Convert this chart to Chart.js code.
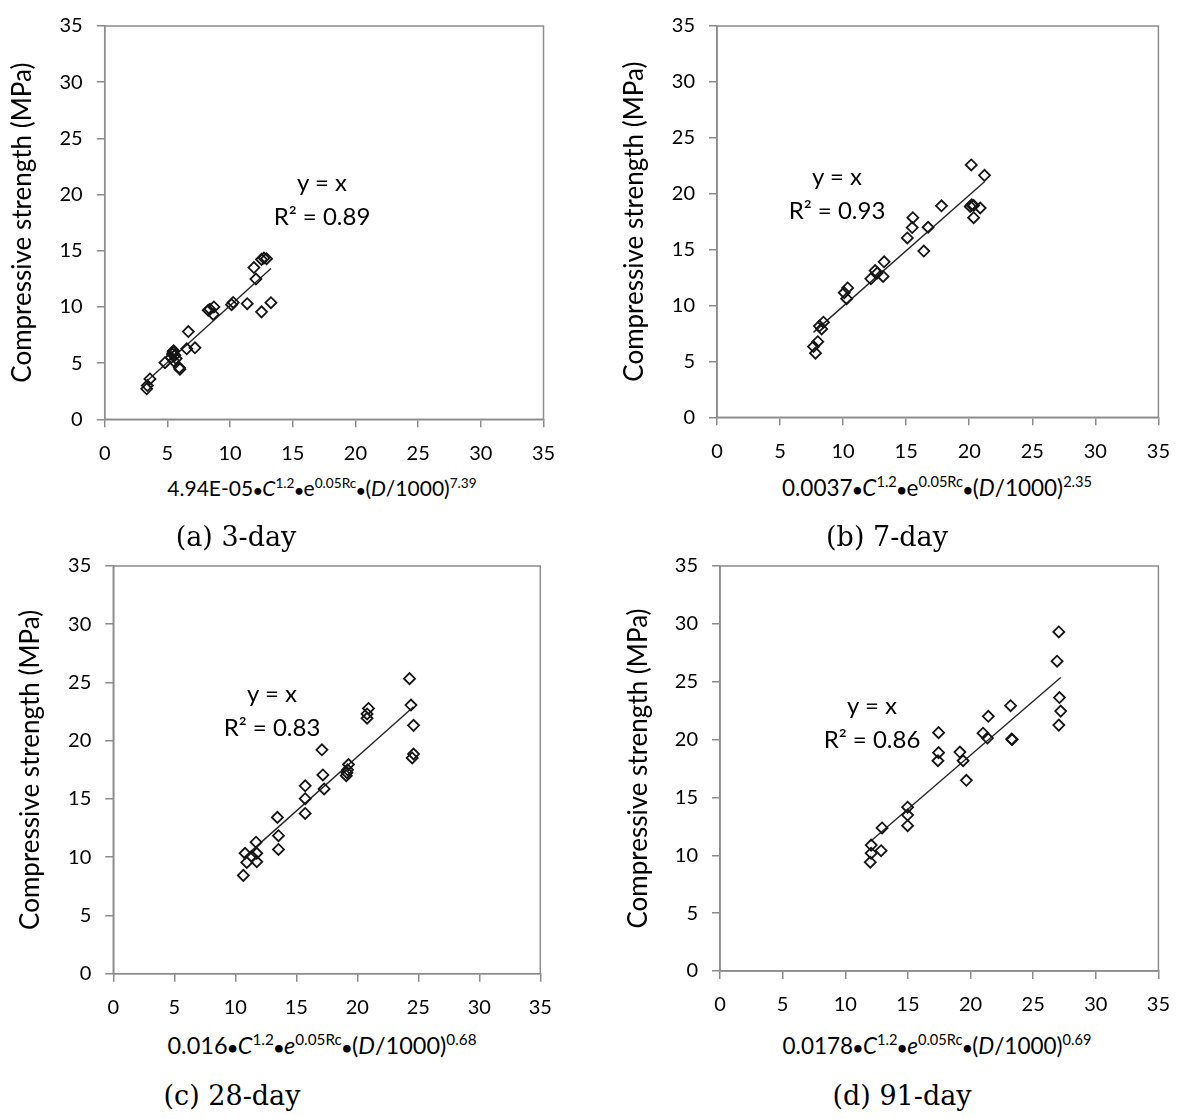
<!DOCTYPE html>
<html>
<head>
<meta charset="utf-8">
<script src="https://cdn.jsdelivr.net/npm/chart.js@4.4.0/dist/chart.umd.min.js"></script>
<style>
body { margin: 0; background: #fff; width: 1184px; height: 1119px; position: relative; overflow: hidden; }
.box { position: absolute; }
.xt { position: absolute; font-family: Lato, sans-serif; font-size: 21px; white-space: nowrap; transform: translate(-50%, -50%); color: #000; }
.xt sup { font-size: 0.65em; vertical-align: 0; position: relative; top: -0.6em; }
.xt b { font-size: 0.75em; }
.cap { position: absolute; font-family: 'DejaVu Serif', serif; font-size: 27px; white-space: nowrap; transform: translate(-50%, -50%); color: #000; }
.eq { position: absolute; font-family: Lato, sans-serif; font-size: 24px; line-height: 34px; text-align: center; white-space: nowrap; transform: translateX(-50%); color: #000; }
</style>
</head>
<body>
<div class="box" id="pa"><canvas id="ca"></canvas></div>
<div class="box" id="pb"><canvas id="cb"></canvas></div>
<div class="box" id="pc"><canvas id="cc"></canvas></div>
<div class="box" id="pd"><canvas id="cd"></canvas></div>

<div class="eq" style="left:322px;top:165px">y = x<br>R² = 0.89</div>
<div class="eq" style="left:837px;top:159px">y = x<br>R² = 0.93</div>
<div class="eq" style="left:272px;top:676px">y = x<br>R² = 0.83</div>
<div class="eq" style="left:872px;top:688px">y = x<br>R² = 0.86</div>

<div class="xt" style="left:322px;top:487px;font-size:21px">4.94E-05<b>•</b><i>C</i><sup>1.2</sup><b>•</b>e<sup>0.05Rc</sup><b>•</b>(<i>D</i>/1000)<sup>7.39</sup></div>
<div class="xt" style="left:937px;top:487px;font-size:22.5px">0.0037<b>•</b><i>C</i><sup>1.2</sup><b>•</b>e<sup>0.05Rc</sup><b>•</b>(<i>D</i>/1000)<sup>2.35</sup></div>
<div class="xt" style="left:322px;top:1045px;font-size:23.5px">0.016<b>•</b><i>C</i><sup>1.2</sup><b>•</b><i>e</i><sup>0.05Rc</sup><b>•</b>(<i>D</i>/1000)<sup>0.68</sup></div>
<div class="xt" style="left:937px;top:1045px;font-size:22.5px">0.0178<b>•</b><i>C</i><sup>1.2</sup><b>•</b><i>e</i><sup>0.05Rc</sup><b>•</b>(<i>D</i>/1000)<sup>0.69</sup></div>

<div class="cap" style="left:236px;top:536px">(a) 3-day</div>
<div class="cap" style="left:887px;top:536px">(b) 7-day</div>
<div class="cap" style="left:232px;top:1095px">(c) 28-day</div>
<div class="cap" style="left:902px;top:1095px">(d) 91-day</div>

<script>
// axis range shared by all four panels
var axisMin = 0;
var axisMax = 35;
var axisStep = 5;
var yTitle = 'Compressive strength (MPa)';

// (a) 3-day
var day3X = [3.35, 3.40, 3.61, 4.81, 5.30, 5.40, 5.50, 5.60, 5.45, 5.70, 5.50, 5.95, 6.00, 6.67, 6.54, 7.20, 8.26, 8.71, 8.66, 8.40, 10.12, 10.25, 11.37, 12.51, 13.26, 12.06, 11.90, 12.51, 12.91, 12.70];
var day3Y = [2.71, 3.00, 3.59, 5.04, 5.50, 5.80, 6.10, 5.70, 6.00, 5.40, 5.20, 4.60, 4.46, 7.81, 6.27, 6.36, 9.71, 10.00, 9.33, 9.80, 10.20, 10.40, 10.29, 9.56, 10.38, 12.48, 13.50, 14.23, 14.29, 14.35];

// (b) 7-day
var day7X = [7.81, 7.65, 7.99, 8.12, 8.44, 8.30, 10.28, 10.09, 10.36, 12.20, 12.54, 12.70, 13.17, 13.25, 15.09, 15.48, 15.53, 16.40, 16.74, 17.80, 20.16, 21.21, 20.08, 20.35, 20.87, 20.35, 20.20];
var day7Y = [5.74, 6.33, 6.76, 8.16, 8.51, 7.90, 10.61, 11.14, 11.57, 12.39, 13.12, 12.90, 12.60, 13.91, 16.04, 16.97, 17.85, 14.87, 17.00, 18.92, 22.57, 21.64, 18.86, 18.95, 18.72, 17.85, 19.00];

// (c) 28-day
var day28X = [10.66, 10.94, 10.80, 11.35, 11.76, 11.76, 11.70, 13.45, 13.54, 13.54, 15.73, 15.73, 15.73, 17.10, 17.18, 17.28, 19.28, 19.15, 19.10, 19.20, 20.92, 20.80, 20.80, 24.28, 24.40, 24.61, 24.61, 24.50];
var day28Y = [8.44, 9.55, 10.34, 10.06, 9.61, 10.34, 11.29, 13.42, 11.85, 10.67, 16.13, 15.02, 13.76, 19.22, 17.06, 15.86, 17.96, 17.26, 17.00, 17.50, 22.77, 22.30, 21.93, 25.33, 23.06, 21.32, 18.86, 18.52];

// (d) 91-day
var day91X = [12.07, 12.07, 12.00, 12.86, 12.94, 14.98, 14.98, 14.98, 17.45, 17.45, 17.40, 19.15, 19.41, 19.67, 21.00, 21.35, 21.42, 23.20, 23.28, 23.33, 27.05, 26.91, 27.10, 27.20, 27.05];
var day91Y = [10.88, 10.18, 9.40, 10.40, 12.36, 14.16, 13.48, 12.56, 20.60, 18.87, 18.17, 18.92, 18.17, 16.48, 20.55, 20.13, 22.01, 22.93, 20.04, 20.00, 29.30, 26.77, 23.63, 22.46, 21.25];

var axisGrey = '#8c8c8c';

var frameBox = {
    id: 'frameBox',
    beforeDatasetsDraw: function(chart) {
        var ctx = chart.ctx, a = chart.chartArea;
        ctx.save();
        ctx.strokeStyle = axisGrey;
        ctx.lineWidth = 1.5;
        ctx.strokeRect(a.left, a.top, a.right - a.left, a.bottom - a.top);
        ctx.restore();
    }
};

// f: page box of the canvas, plus the plot area edges in page pixels
function makePanel(divId, canvasId, f, xs, ys) {
    var div = document.getElementById(divId);
    div.style.left = f.left + 'px';
    div.style.top = f.top + 'px';
    div.style.width = f.width + 'px';
    div.style.height = f.height + 'px';

    var pts = xs.map(function(x, i) { return {x: x, y: ys[i]}; });
    // trend line through the origin, over the data range
    var sxy = 0, sxx = 0;
    xs.forEach(function(x, i) { sxy += x * ys[i]; sxx += x * x; });
    var slope = sxy / sxx;
    var lo = Math.min.apply(null, xs), hi = Math.max.apply(null, xs);

    var tickFont = {family: 'Lato', size: 20};

    return new Chart(document.getElementById(canvasId), {
        type: 'scatter',
        data: {
            datasets: [{
                data: pts,
                pointStyle: 'rectRot',
                pointRadius: 5.5,
                pointHoverRadius: 5.5,
                borderWidth: 1.8,
                borderColor: '#151515',
                backgroundColor: 'rgba(0,0,0,0)'
            }, {
                type: 'line',
                data: [{x: lo, y: slope * lo}, {x: hi, y: slope * hi}],
                borderColor: '#262626',
                borderWidth: 1.4,
                pointRadius: 0,
                fill: false
            }]
        },
        options: {
            responsive: true,
            maintainAspectRatio: false,
            animation: false,
            events: [],
            layout: {
                padding: {left: 0, bottom: 0, top: f.plotTop - f.top, right: f.left + f.width - f.plotRight}
            },
            plugins: {legend: {display: false}, tooltip: {enabled: false}},
            scales: {
                x: {
                    type: 'linear',
                    min: axisMin, max: axisMax,
                    afterFit: function(s) { s.height = f.top + f.height - f.plotBottom; },
                    ticks: {stepSize: axisStep, font: tickFont, color: '#000', padding: 14, maxRotation: 0},
                    grid: {drawOnChartArea: false, drawTicks: true, tickLength: 8, color: axisGrey, lineWidth: 1.5},
                    border: {display: true, color: axisGrey, width: 1.5}
                },
                y: {
                    type: 'linear',
                    min: axisMin, max: axisMax,
                    afterFit: function(s) { s.width = f.plotLeft - f.left; },
                    ticks: {stepSize: axisStep, font: tickFont, color: '#000', padding: 14},
                    grid: {drawOnChartArea: false, drawTicks: true, tickLength: 8, color: axisGrey, lineWidth: 1.5},
                    border: {display: true, color: axisGrey, width: 1.5},
                    title: {display: true, text: yTitle, color: '#000', font: {family: 'Lato', size: 26}, padding: {top: 7, bottom: 4}}
                }
            }
        },
        plugins: [frameBox]
    });
}

makePanel('pa', 'ca', {left: 0, top: 0, width: 592, height: 470, plotLeft: 104.7, plotTop: 19.3, plotRight: 543.5, plotBottom: 419.3}, day3X, day3Y);
makePanel('pb', 'cb', {left: 612, top: 0, width: 572, height: 470, plotLeft: 717, plotTop: 17.3, plotRight: 1160.7, plotBottom: 417.3}, day7X, day7Y);
makePanel('pc', 'cc', {left: 8, top: 540, width: 584, height: 480, plotLeft: 113.3, plotTop: 557, plotRight: 540.3, plotBottom: 973.7}, day28X, day28Y);
makePanel('pd', 'cd', {left: 616, top: 540, width: 568, height: 480, plotLeft: 720, plotTop: 555, plotRight: 1160, plotBottom: 971}, day91X, day91Y);
</script>
</body>
</html>
